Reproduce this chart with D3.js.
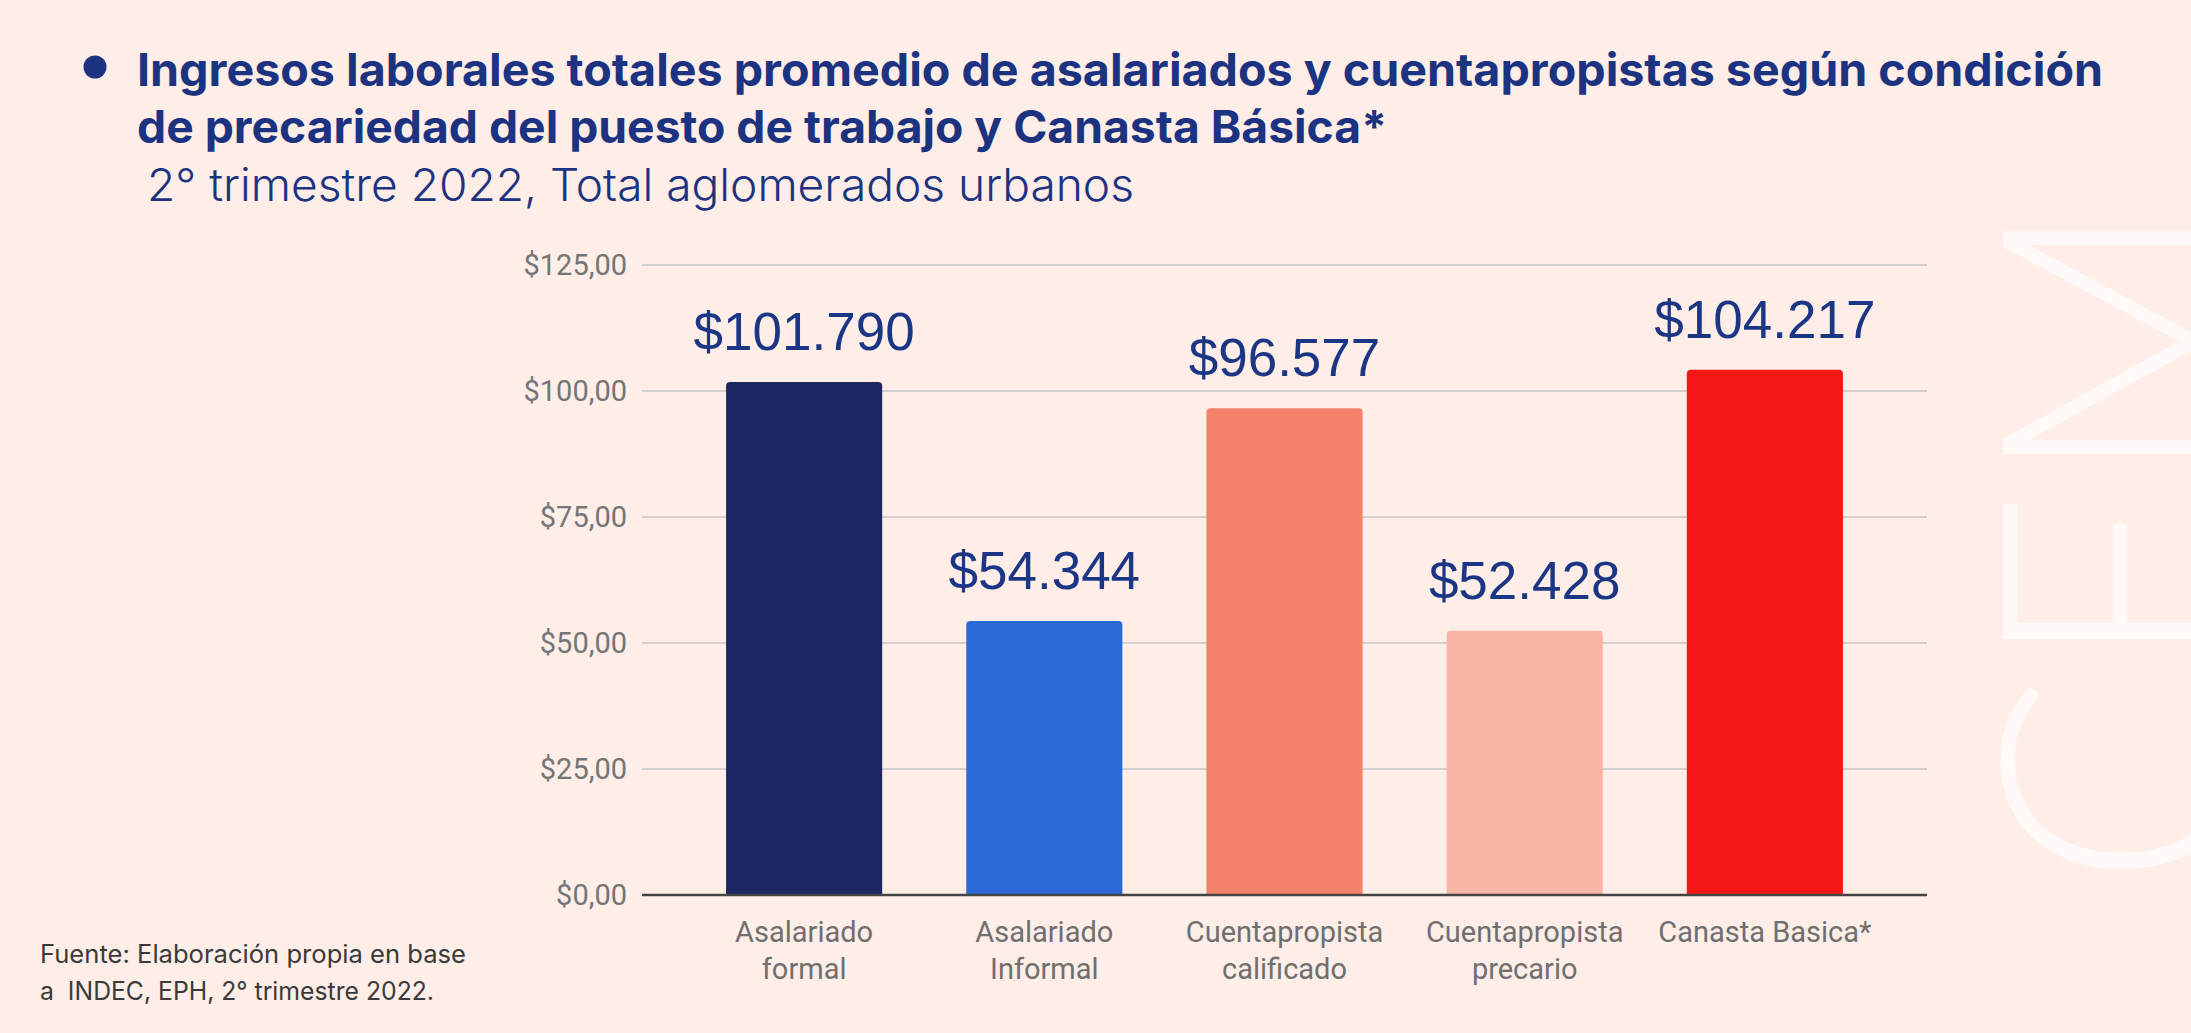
<!DOCTYPE html>
<html>
<head>
<meta charset="utf-8">
<script src="https://cdn.jsdelivr.net/npm/d3@7"></script>
<style>
  html, body { margin: 0; padding: 0; background: #ffede7; }
  svg { display: block; }
</style>
</head>
<body>
<script>
// ---- DATA ----
const categories = ["Asalariado\nformal", "Asalariado\nInformal", "Cuentapropista\ncalificado", "Cuentapropista\nprecario", "Canasta Basica*"];
const values = [101.790, 54.344, 96.577, 52.428, 104.217]; // miles de pesos
const yTicks = [0, 25, 50, 75, 100, 125];
const titleLines = [
  "Ingresos laborales totales promedio de asalariados y cuentapropistas según condición",
  "de precariedad del puesto de trabajo y Canasta Básica*"
];
const subtitle = "2° trimestre 2022, Total aglomerados urbanos";
const sourceLines = ["Fuente: Elaboración propia en base", "a\u00a0 INDEC, EPH, 2° trimestre 2022."];
const watermark = "CEM";

// ---- STYLE ----
const barColors = ["#1a2761", "#2b69d6", "#f2826a", "#f7b6a5", "#f51616"];
const W = 2191, H = 1033;
const navy = "#1b3381";

const svg = d3.select("body").append("svg").attr("width", W).attr("height", H);
svg.append("rect").attr("width", W).attr("height", H).attr("fill", "#ffede7");

// watermark (clipped at the right edge, as in the original slide)
svg.append("text")
  .attr("transform", "translate(2240,888) rotate(-90)")
  .attr("font-family", "Lato, 'Open Sans', sans-serif")
  .attr("font-weight", 300)
  .attr("font-size", 335)
  .attr("fill", "#ffffff")
  .attr("fill-opacity", 0.65)
  .attr("textLength", 690)
  .attr("lengthAdjust", "spacingAndGlyphs")
  .text(watermark);

// title
svg.append("circle").attr("cx", 95).attr("cy", 67).attr("r", 11.5).attr("fill", navy);
const titleWidths = [1966, 1250];
titleLines.forEach((t, i) => {
  svg.append("text")
    .attr("x", 137).attr("y", 86 + i * 57)
    .attr("font-family", "Inter, 'Noto Sans', sans-serif")
    .attr("font-weight", 700)
    .attr("font-size", 45)
    .attr("fill", navy)
    .attr("textLength", titleWidths[i])
    .attr("lengthAdjust", "spacingAndGlyphs")
    .text(t);
});
svg.append("text")
  .attr("x", 147).attr("y", 201)
  .attr("font-family", "Inter, 'Noto Sans', sans-serif")
  .attr("font-weight", 300)
  .attr("font-size", 45)
  .attr("fill", navy)
  .attr("textLength", 987)
  .attr("lengthAdjust", "spacingAndGlyphs")
  .text(subtitle);

// source
const srcWidths = [426, 394];
sourceLines.forEach((t, i) => {
  svg.append("text")
    .attr("x", 40).attr("y", 963 + i * 37)
    .attr("font-family", "Inter, 'Noto Sans', sans-serif")
    .attr("font-weight", 400)
    .attr("font-size", 25)
    .attr("fill", "#3a3a3a")
    .attr("textLength", srcWidths[i])
    .attr("lengthAdjust", "spacingAndGlyphs")
    .text(t);
});

// ---- CHART ----
const plotLeft = 642, plotRight = 1927, plotBottom = 895, plotTop = 265;
const x = d3.scaleBand().domain(categories).range([plotLeft, plotRight]).paddingInner(0.35).paddingOuter(0.35);
const y = d3.scaleLinear().domain([0, 125]).range([plotBottom, plotTop]);

const loc = d3.formatLocale({decimal: ",", thousands: ".", grouping: [3], currency: ["$", ""]});
const tickFmt = loc.format("$,.2f");
const valFmt = v => loc.format("$,.0f")(Math.round(v * 1000));

// gridlines
svg.append("g").selectAll("line").data(yTicks.filter(d => d > 0)).join("line")
  .attr("x1", plotLeft).attr("x2", plotRight)
  .attr("y1", d => y(d)).attr("y2", d => y(d))
  .attr("stroke", "#d2cfcd").attr("stroke-width", 2);

// y axis
const yAxis = svg.append("g").attr("transform", `translate(${plotLeft},0)`)
  .call(d3.axisLeft(y).tickValues(yTicks).tickFormat(tickFmt).tickSize(0).tickPadding(15));
yAxis.select(".domain").remove();
yAxis.selectAll("text")
  .attr("font-family", "Roboto, sans-serif")
  .attr("font-size", 29)
  .attr("fill", "#757575");

// bars with rounded top corners
const r = 4;
svg.append("g").selectAll("path").data(values).join("path")
  .attr("fill", (d, i) => barColors[i])
  .attr("d", (d, i) => {
    const x0 = x(categories[i]), x1 = x0 + x.bandwidth();
    const yt = y(d), yb = y(0);
    return `M${x0},${yb}V${yt + r}Q${x0},${yt} ${x0 + r},${yt}H${x1 - r}Q${x1},${yt} ${x1},${yt + r}V${yb}Z`;
  });

// baseline axis
svg.append("line").attr("x1", plotLeft).attr("x2", plotRight).attr("y1", y(0)).attr("y2", y(0))
  .attr("stroke", "#444").attr("stroke-width", 2.5);

// x axis
const xAxis = svg.append("g").attr("transform", `translate(0,${y(0)})`)
  .call(d3.axisBottom(x).tickSize(0).tickPadding(0));
xAxis.select(".domain").remove();
xAxis.selectAll("text")
  .attr("font-family", "Roboto, sans-serif")
  .attr("font-size", 29)
  .attr("fill", "#6f6f6f")
  .attr("dy", null)
  .attr("y", 46.5)
  .each(function(d) {
    const t = d3.select(this);
    t.text(null);
    d.split("\n").forEach((line, i) => {
      t.append("tspan").attr("x", 0).attr("dy", i === 0 ? 0 : 37.6).text(line);
    });
  });

// value labels
svg.append("g").selectAll("text").data(values).join("text")
  .attr("x", (d, i) => x(categories[i]) + x.bandwidth() / 2)
  .attr("y", d => y(d) - 32)
  .attr("text-anchor", "middle")
  .attr("font-family", "'Liberation Sans', Arial, sans-serif")
  .attr("font-size", 53)
  .attr("fill", "#1b3685")
  .text(d => valFmt(d));
</script>
</body>
</html>
